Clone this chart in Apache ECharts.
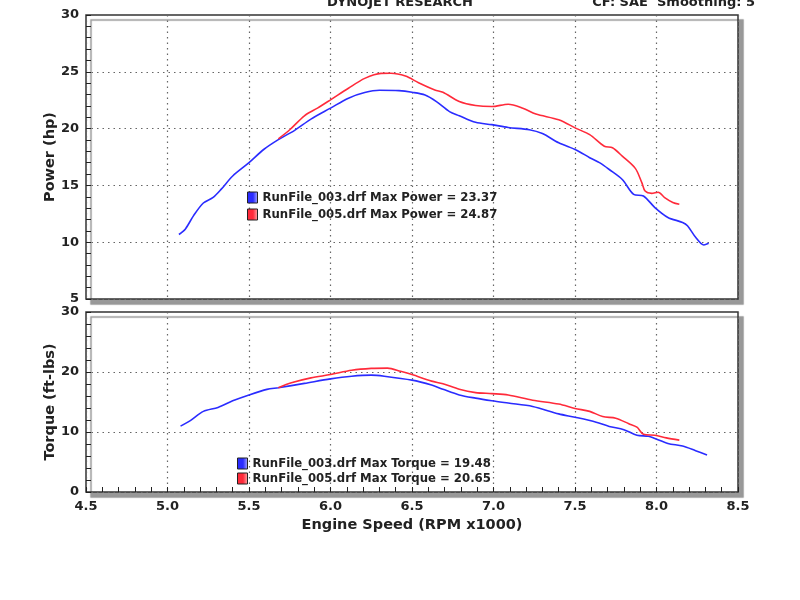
<!DOCTYPE html>
<html>
<head>
<meta charset="utf-8">
<title>Dynojet Research</title>
<script src="https://cdn.jsdelivr.net/npm/echarts@6/dist/echarts.min.js"></script>
</head>
<body style="margin:0;background:#fff">
<div id="main" style="width:800px;height:600px;"></div>
<script>
var runNames = ['RunFile_003.drf', 'RunFile_005.drf'];
var maxPower = [23.37, 24.87];
var maxTorque = [19.48, 20.65];
var runColors = ['#2a2cff', '#ff2a3a'];

// RunFile_003 power (rpm x1000, hp)
var rpm003Hp = [5.07, 5.11, 5.16, 5.22, 5.28, 5.33, 5.40, 5.50, 5.59, 5.68, 5.78, 5.88, 6.00, 6.11, 6.21, 6.30, 6.42, 6.50, 6.58, 6.65, 6.73, 6.79, 6.89, 6.99, 7.09, 7.22, 7.30, 7.40, 7.51, 7.59, 7.65, 7.71, 7.79, 7.86, 7.92, 7.99, 8.07, 8.16, 8.19, 8.24, 8.29, 8.32];
var hp003 = [10.68, 11.17, 12.34, 13.45, 13.94, 14.67, 15.83, 17.0, 18.16, 19.03, 19.85, 20.84, 21.8, 22.68, 23.17, 23.37, 23.34, 23.2, 22.96, 22.38, 21.5, 21.13, 20.55, 20.35, 20.1, 19.9, 19.56, 18.75, 18.1, 17.44, 17.0, 16.4, 15.52, 14.21, 14.07, 13.05, 12.18, 11.74, 11.45, 10.43, 9.76, 9.91];

// RunFile_005 power
var rpm005Hp = [5.68, 5.75, 5.84, 5.92, 6.00, 6.11, 6.21, 6.31, 6.37, 6.46, 6.54, 6.64, 6.69, 6.79, 6.89, 6.99, 7.09, 7.18, 7.26, 7.40, 7.51, 7.59, 7.68, 7.73, 7.79, 7.87, 7.91, 7.93, 7.97, 8.01, 8.05, 8.10, 8.14];
var hp005 = [19.1, 19.9, 21.13, 21.8, 22.53, 23.55, 24.42, 24.86, 24.87, 24.62, 24.04, 23.4, 23.2, 22.38, 22.03, 21.94, 22.15, 21.8, 21.28, 20.78, 20.0, 19.47, 18.45, 18.31, 17.58, 16.5, 15.24, 14.5, 14.3, 14.4, 13.93, 13.5, 13.34];

// RunFile_003 torque (ft-lbs)
var rpm003Tq = [5.08, 5.14, 5.22, 5.31, 5.40, 5.50, 5.61, 5.68, 5.84, 6.00, 6.13, 6.25, 6.33, 6.50, 6.62, 6.69, 6.79, 6.89, 6.99, 7.09, 7.24, 7.40, 7.50, 7.63, 7.71, 7.80, 7.88, 7.95, 7.99, 8.07, 8.16, 8.24, 8.31];
var tq003 = [10.98, 11.9, 13.44, 14.1, 15.2, 16.18, 17.1, 17.38, 18.1, 18.85, 19.3, 19.48, 19.3, 18.64, 17.82, 17.12, 16.18, 15.64, 15.2, 14.82, 14.26, 13.02, 12.46, 11.64, 10.93, 10.39, 9.46, 9.3, 8.92, 8.1, 7.66, 6.89, 6.18];

// RunFile_005 torque
var rpm005Tq = [5.68, 5.76, 5.88, 6.00, 6.13, 6.25, 6.35, 6.43, 6.50, 6.62, 6.69, 6.79, 6.89, 6.99, 7.09, 7.24, 7.40, 7.50, 7.59, 7.67, 7.75, 7.83, 7.88, 7.92, 7.99, 8.06, 8.14];
var tq005 = [17.38, 18.2, 19.02, 19.57, 20.28, 20.6, 20.65, 20.11, 19.57, 18.48, 18.05, 17.12, 16.56, 16.4, 16.18, 15.3, 14.66, 13.93, 13.44, 12.57, 12.3, 11.38, 10.8, 9.62, 9.46, 9.02, 8.64];

function pairs(xs, ys) {
  return xs.map(function (x, i) { return [x, ys[i]]; });
}

var font = 'DejaVu Sans';
var condensed = '"DejaVu Sans Condensed", "DejaVu Sans"';
var powerNames = runNames.map(function (n, i) { return n + ' Max Power = ' + maxPower[i].toFixed(2); });
var torqueNames = runNames.map(function (n, i) { return n + ' Max Torque = ' + maxTorque[i].toFixed(2); });

function legendIcon(c1, c2) {
  return new echarts.graphic.LinearGradient(0, 0, 1, 0, [
    { offset: 0, color: c1 }, { offset: 0.55, color: c1 }, { offset: 1, color: c2 }
  ]);
}

var gridStyle = {
  show: true, left: 86, right: 62, backgroundColor: '#fff',
  borderColor: '#333', borderWidth: 1.5,
  shadowColor: '#999', shadowBlur: 1, shadowOffsetX: 5, shadowOffsetY: 5
};

var dotted = { show: true, lineStyle: { color: '#666', type: [1.5, 4], width: 1.2 } };
var labelFont = { color: '#222', fontFamily: font, fontWeight: 'bold', fontSize: 13 };
var legendFont = { color: '#222', fontFamily: condensed, fontWeight: 'bold', fontSize: 13 };
var nameFont = { color: '#222', fontFamily: font, fontWeight: 'bold', fontSize: 14.5 };

var myChart = echarts.init(document.getElementById('main'));
var option = {
  animation: false,
  title: [
    { text: 'DYNOJET RESEARCH', left: 'center', top: -9, textStyle: { fontFamily: font, fontWeight: 'bold', fontSize: 13, color: '#222' } },
    { text: 'CF: SAE  Smoothing: 5', right: 40, top: -9, textStyle: { fontFamily: font, fontWeight: 'bold', fontSize: 13, color: '#222' } }
  ],
  grid: [
    Object.assign({ top: 15, height: 284 }, gridStyle),
    Object.assign({ top: 312, height: 180 }, gridStyle)
  ],
  legend: [
    {
      data: powerNames.map(function (n, i) {
        return { name: n, itemStyle: { color: legendIcon(runColors[i], i ? '#ffb0b0' : '#b0b0ff'), borderColor: '#222', borderWidth: 1 } };
      }),
      orient: 'vertical', left: 247, top: 191, itemWidth: 10, itemHeight: 11, itemGap: 4,
      icon: 'rect', selectedMode: false, textStyle: legendFont, padding: 0
    },
    {
      data: torqueNames.map(function (n, i) {
        return { name: n, itemStyle: { color: legendIcon(runColors[i], i ? '#ffb0b0' : '#b0b0ff'), borderColor: '#222', borderWidth: 1 } };
      }),
      orient: 'vertical', left: 237, top: 457, itemWidth: 10, itemHeight: 11, itemGap: 2,
      icon: 'rect', selectedMode: false, textStyle: legendFont, padding: 0
    }
  ],
  xAxis: [
    {
      gridIndex: 0, type: 'value', min: 4.5, max: 8.5, interval: 0.5,
      axisLine: { show: false }, axisTick: { show: false }, axisLabel: { show: false },
      splitLine: dotted
    },
    {
      gridIndex: 1, type: 'value', min: 4.5, max: 8.5, interval: 0.5,
      name: 'Engine Speed (RPM x1000)', nameLocation: 'middle', nameGap: 26, nameTextStyle: nameFont,
      axisLine: { show: false },
      axisTick: { show: true, inside: true, length: 5, lineStyle: { color: '#222' } },
      minorTick: { show: true, splitNumber: 5, length: 5, lineStyle: { color: '#222' } },
      axisLabel: Object.assign({ margin: 8, formatter: function (v) { return v.toFixed(1); } }, labelFont),
      splitLine: dotted
    }
  ],
  yAxis: [
    {
      gridIndex: 0, type: 'value', min: 5, max: 30, interval: 5,
      name: 'Power (hp)', nameLocation: 'middle', nameGap: 28, nameMoveOverlap: false, nameTextStyle: nameFont,
      axisLine: { show: false },
      axisTick: { show: true, inside: true, length: 5, lineStyle: { color: '#222' } },
      minorTick: { show: true, splitNumber: 5, length: 5, lineStyle: { color: '#222' } },
      axisLabel: Object.assign({ margin: 7 }, labelFont),
      splitLine: dotted
    },
    {
      gridIndex: 1, type: 'value', min: 0, max: 30, interval: 10,
      name: 'Torque (ft-lbs)', nameLocation: 'middle', nameGap: 28, nameMoveOverlap: false, nameTextStyle: nameFont,
      axisLine: { show: false },
      axisTick: { show: true, inside: true, length: 5, lineStyle: { color: '#222' } },
      minorTick: { show: true, splitNumber: 5, length: 5, lineStyle: { color: '#222' } },
      axisLabel: Object.assign({ margin: 7 }, labelFont),
      splitLine: dotted
    }
  ],
  series: [
    { name: powerNames[0], type: 'line', xAxisIndex: 0, yAxisIndex: 0, data: pairs(rpm003Hp, hp003) },
    { name: powerNames[1], type: 'line', xAxisIndex: 0, yAxisIndex: 0, data: pairs(rpm005Hp, hp005) },
    { name: torqueNames[0], type: 'line', xAxisIndex: 1, yAxisIndex: 1, data: pairs(rpm003Tq, tq003) },
    { name: torqueNames[1], type: 'line', xAxisIndex: 1, yAxisIndex: 1, data: pairs(rpm005Tq, tq005) }
  ].map(function (s, i) {
    var c = runColors[i % 2];
    s.showSymbol = false;
    s.smooth = 0.3;
    s.color = c;
    s.lineStyle = { color: c, width: 1.6 };
    s.z = i % 2 ? 3 : 2;
    return s;
  })
};
myChart.setOption(option);
</script>
</body>
</html>
